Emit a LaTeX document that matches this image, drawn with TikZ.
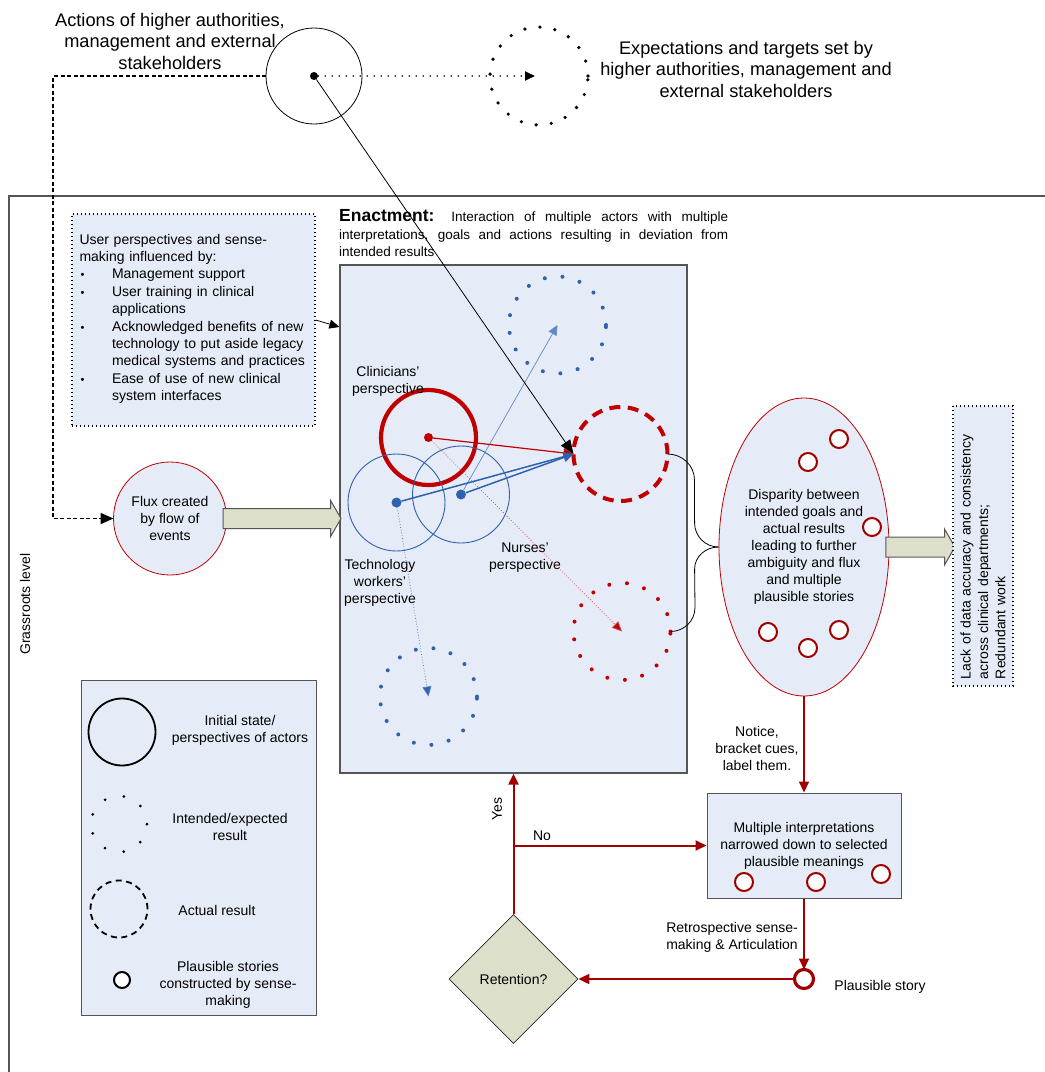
\documentclass[tikz,border=0pt]{standalone}
\usepackage{fontspec}
\setmainfont{Liberation Sans}
\usetikzlibrary{shapes.geometric,shapes.arrows,arrows.meta}

\definecolor{bgblue}{HTML}{E6ECF7}
\definecolor{sred}{HTML}{C00000}
\definecolor{fred}{HTML}{A00000}
\definecolor{pblue}{HTML}{2E62AF}
\definecolor{khaki}{HTML}{DCDFC9}
\definecolor{framegray}{HTML}{555555}

\tikzset{
  txt/.style={align=center,inner sep=0pt,font=\fontsize{14}{17}\selectfont},
  big/.style={align=center,inner sep=0pt,font=\fontsize{18.2}{21.5}\selectfont},
  panel/.style={draw=framegray,fill=bgblue,line width=1pt,inner sep=0pt},
  ring/.style={circle,inner sep=0pt,outer sep=0pt,minimum size=#1},
  dotring/.style={dash pattern=on 0pt off #1,line cap=round},
  persp/.style={ring=97pt,draw=pblue,line width=0.9pt},
  pdot/.style={circle,inner sep=0pt,minimum size=#1},
  story/.style={ring=18pt,draw=fred,fill=white,line width=2pt},
  flow/.style={draw=fred,line width=2pt,-{Triangle[length=11pt,width=10pt]}},
  tip/.style={-{Triangle[length=10pt,width=9pt]}},
  blockarr/.style={single arrow,draw=framegray,fill=khaki,line width=1pt,inner xsep=0pt,inner ysep=9.5pt,
    single arrow head extend=8pt,single arrow tip angle=120}
}

\begin{document}
\begin{tikzpicture}[x=1pt,y=-1pt]
\useasboundingbox (0,0) rectangle (1045,1072);

\draw[draw=framegray,line width=1.5pt] (1045,196) -- (9,196) -- (9,1072);
\node[txt,rotate=90] (grass) at (25,604) {Grassroots level};

\node[big] (actlbl) at (170,41) {Actions of higher authorities,\\management and external\\stakeholders};
\node[ring=96pt,draw=black,line width=0.8pt] (auth) at (314,76) {};
\node[pdot=8pt,fill=black] (authdot) at (314,76) {};
\node[ring=98pt,draw=black,line width=3.6pt,dotring=15.2pt] (expect) at (539,76) {};
\coordinate (expecttip) at (535,76);
\node[big] (explbl) at (746,69) {Expectations and targets set by\\higher authorities, management and\\external stakeholders};
\path[draw=black,line width=1.8pt,dotring=7pt,tip] (authdot) -- (expecttip);

\node[ring=113pt,draw=sred,fill=bgblue,line width=0.8pt,txt] (flux) at (170,518.5) {Flux created\\by flow of\\events};
\path[draw=black,line width=1.8pt,dash pattern=on 4pt off 2.5pt,-{Triangle[length=13pt,width=11pt]}]
  (auth.west) -- ++(-213,0) |- (flux.west);

\node[panel,draw=black,line width=1.2pt,dash pattern=on 1.2pt off 2.8pt,minimum width=243pt,minimum height=212pt,
  text width=228pt,align=left,font=\fontsize{14}{17.4}\selectfont] (user) at (193.5,320) {User perspectives and sense-\\making influenced by:\\
  \begin{tabular}[t]{@{}p{32.5pt}@{}l@{}}
  \hspace{1pt}{\fontsize{11}{11}\selectfont\textbullet} & Management support\\
  \hspace{1pt}{\fontsize{11}{11}\selectfont\textbullet} & User training in clinical\\
   & applications\\
  \hspace{1pt}{\fontsize{11}{11}\selectfont\textbullet} & Acknowledged benefits of new\\
   & technology to put aside legacy\\
   & medical systems and practices\\
  \hspace{1pt}{\fontsize{11}{11}\selectfont\textbullet} & Ease of use of new clinical\\
   & system interfaces
  \end{tabular}};

\node[anchor=north west,text width=389pt,align=justify,inner sep=0pt,font=\fontsize{13.5}{17.8}\selectfont] (enactlbl) at (339,209)
  {{\fontsize{17.5}{17.8}\selectfont\bfseries Enactment:} Interaction of multiple actors with multiple\linebreak
  interpretations, goals and actions resulting in deviation from\linebreak intended results};
\node[panel,line width=1.2pt,minimum width=347pt,minimum height=508pt] (enact) at (513.5,519) {};
\path[draw=black,line width=0.8pt,tip] (user.east) -- ([yshift=-7pt]user.east -| enact.west);
\node[blockarr,minimum height=118pt,anchor=tail] (fluxarr) at ([xshift=-4pt]flux.east) {};

\node[ring=97pt,draw=pblue,line width=4pt,dotring=17.8pt] (intA) at (557.5,325) {};
\node[ring=97pt,draw=pblue,line width=4pt,dotring=17.8pt] (intB) at (428.5,696.5) {};
\node[ring=97pt,draw=sred,line width=4pt,dotring=17.8pt] (intR) at (622,631.5) {};
\node[ring=94pt,draw=sred,line width=4pt,dash pattern=on 11pt off 7.5pt] (actual) at (620.5,454) {};
\node[ring=95pt,draw=sred,line width=4.2pt] (clin) at (428.5,437.5) {};
\node[persp] (tech) at (396.5,502.5) {};
\node[persp] (nurse) at (461,494.5) {};
\node[pdot=9pt,fill=sred] (clindot) at (clin.center) {};
\node[pdot=10pt,fill=pblue] (techdot) at (tech.center) {};
\node[pdot=10pt,fill=pblue] (nursedot) at (nurse.center) {};

\node[txt] (clinlbl) at (388,381) {Clinicians’\\perspective};
\node[txt] (techlbl) at (380,583) {Technology\\workers’\\perspective};
\node[txt] (nurselbl) at (525,558) {Nurses’\\perspective};

\path[draw=pblue!75,line width=0.7pt,tip] (nursedot) -- (intA.center);
\path[draw=sred!70,line width=0.8pt,dotted,-{Triangle[length=10pt,width=9pt,fill=sred]}] (clindot) -- (intR.center);
\path[draw=pblue!80,line width=0.8pt,dotted,-{Triangle[length=10pt,width=9pt,fill=pblue]}] (techdot) -- (intB.center);
\path[draw=sred,line width=1.2pt,tip] (clindot) -- (actual.west);
\path[draw=pblue,line width=1.5pt,tip] (techdot) -- (actual.west);
\path[draw=pblue,line width=1.5pt,tip] (nursedot) -- (actual.west);
\path[draw=black,line width=0.8pt,-{Triangle[length=14pt,width=11pt]}] (authdot) -- (actual.west);

\node[ellipse,draw=sred,fill=bgblue,line width=0.8pt,minimum width=170pt,minimum height=298pt,txt] (disp) at (804,547)
  {Disparity between\\intended goals and\\actual results\\leading to further\\ambiguity and flux\\and multiple\\plausible stories};
\node[story] (d1) at (839,439) {};
\node[story] (d2) at (808,462) {};
\node[story] (d3) at (872,527) {};
\node[story] (d4) at (768,632) {};
\node[story] (d5) at (808,648) {};
\node[story] (d6) at (839,630) {};

\draw[line width=0.8pt] (actual.east) to[out=0,in=90] ([xshift=27pt,yshift=-26pt]actual.east)
  -- ([xshift=-24pt,yshift=24pt]disp.west) to[out=-90,in=180] (disp.west);
\draw[line width=0.8pt] (intR.east) to[out=0,in=-90] ([xshift=24.5pt,yshift=24pt]intR.east)
  -- ([xshift=-24pt,yshift=-22pt]disp.west) to[out=90,in=180] (disp.west);

\node[blockarr,minimum height=69pt,anchor=tail] (outarr) at ([xshift=-4pt]disp.east) {};
\node[draw=black,line width=1.2pt,dash pattern=on 1.2pt off 2.8pt,fill=bgblue,rotate=90,minimum width=280pt,minimum height=60pt,
  text width=266pt,align=left,inner sep=0pt,font=\fontsize{14}{17.4}\selectfont] (lack) at (983,546)
  {Lack of data accuracy and consistency\\across clinical departments;\\Redundant work};

\node[panel,minimum width=194pt,minimum height=105pt,txt] (multi) at (804,845.5)
  {Multiple interpretations\\narrowed down to selected\\plausible meanings};
\node[story] (m1) at (744,882) {};
\node[story] (m2) at (816,882) {};
\node[story] (m3) at (881,874) {};
\draw[flow] (disp) -- (multi);
\node[txt] (noticelbl) at (757,748) {Notice,\\bracket cues,\\label them.};

\node[ring=19pt,draw=fred,fill=white,line width=3.2pt] (story) at (804,979) {};
\draw[flow] (multi) -- (story);
\node[txt,anchor=east,align=left] (retrolbl) at (798,937) {Retrospective sense-\\making \& Articulation};
\node[txt] (storylbl) at (880,987) {Plausible story};

\node[diamond,aspect=1,draw=black!85,fill=khaki,line width=0.8pt,minimum width=129pt,minimum height=129pt,txt] (ret) at (513.5,979) {Retention?};
\draw[flow] (story) -- (ret);
\draw[flow] (ret.north) -- (ret.north |- enact.south);
\coordinate (nofork) at (ret.north |- multi.west);
\draw[flow] (nofork) -- (multi.west);
\node[txt,rotate=90] (yeslbl) at (497,809) {Yes};
\node[txt] (nolbl) at (542,836) {No};

\node[panel,line width=0.8pt,minimum width=235pt,minimum height=335pt] (legend) at (198.5,847.5) {};
\node[ring=67pt,draw=black,line width=1.8pt] (lginit) at (122,732) {};
\node[txt] (lginitlbl) at (240,730) {Initial state/\\perspectives of actors};
\node[ring=56pt,draw=black,line width=3pt,dotring=19.5pt] (lgint) at (119,824) {};
\node[txt] (lgintlbl) at (230,827) {Intended/expected\\result};
\node[ring=57pt,draw=black,line width=1.8pt,dash pattern=on 6pt off 4.5pt] (lgact) at (119,909) {};
\node[txt] (lgactlbl) at (217,910) {Actual result};
\node[ring=16pt,draw=black,line width=2pt,fill=white] (lgstory) at (122,980) {};
\node[txt] (lgstorylbl) at (228,985) {Plausible stories\\constructed by sense-\\making};
\end{tikzpicture}
\end{document}
